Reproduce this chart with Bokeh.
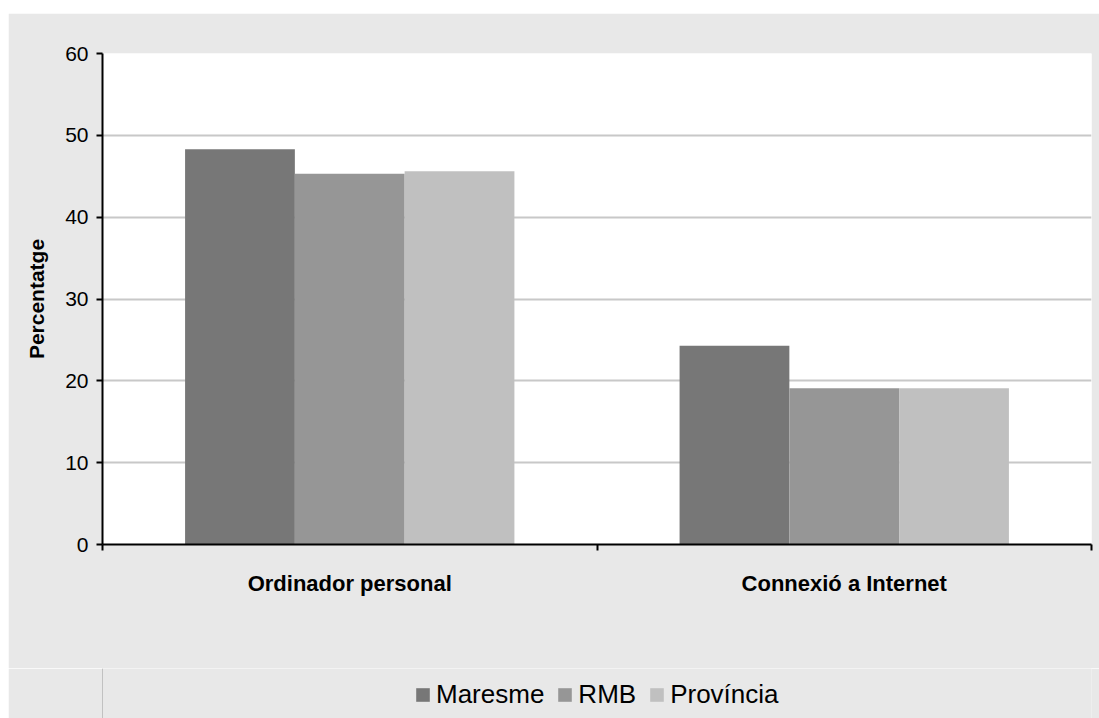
from bokeh.plotting import figure
from bokeh.models import (ColumnDataSource, Range1d, FixedTicker, Legend, LegendItem, Spacer)
from bokeh.layouts import column, row
from bokeh.transform import dodge
from bokeh.embed import file_html
from bokeh.resources import INLINE

categories = ["Ordinador personal", "Connexió a Internet"]
series = ["Maresme", "RMB", "Província"]
maresme = [48.3, 24.3]
rmb = [45.3, 19.1]
provincia = [45.6, 19.1]
colors = ["#777777", "#969696", "#c0c0c0"]
y_ticks = [0, 10, 20, 30, 40, 50, 60]

FONT = "Liberation Sans"
BG = "#e8e8e8"

src = ColumnDataSource(dict(
    x=[i + 0.5 for i in range(len(categories))],
    Maresme=maresme, RMB=rmb, Provincia=provincia,
))

p = figure(width=1091, height=655, output_backend="svg", toolbar_location=None,
           x_range=Range1d(0, len(categories)), y_range=Range1d(0, 60),
           min_border_left=94, min_border_right=8, min_border_top=40, min_border_bottom=124)
p.background_fill_color = "white"
p.border_fill_color = BG
p.outline_line_color = None

bw = 0.222
offsets = [-bw, 0, bw]
for col, off, c in zip(["Maresme", "RMB", "Provincia"], offsets, colors):
    p.vbar(x=dodge("x", off, range=p.x_range), top=col, width=bw, source=src,
           fill_color=c, line_color=None)

# y axis
yax = p.yaxis[0]
yax.ticker = FixedTicker(ticks=y_ticks)
yax.axis_line_color = "black"
yax.axis_line_width = 2
yax.major_tick_line_color = "black"
yax.major_tick_line_width = 2
yax.major_tick_out = 6
yax.major_tick_in = 0
yax.minor_tick_line_color = None
yax.major_label_text_font = FONT
yax.major_label_text_font_size = "21px"
yax.major_label_text_color = "black"
yax.major_label_standoff = 8
yax.axis_label = "Percentatge"
yax.axis_label_text_font = FONT
yax.axis_label_text_font_style = "bold"
yax.axis_label_text_font_size = "21px"
yax.axis_label_text_color = "black"
yax.axis_label_standoff = 14

# x axis
xax = p.xaxis[0]
xax.ticker = FixedTicker(ticks=[i + 0.5 for i in range(len(categories))],
                         minor_ticks=list(range(len(categories) + 1)))
xax.major_label_overrides = {i + 0.5: c for i, c in enumerate(categories)}
xax.axis_line_color = "black"
xax.axis_line_width = 2
xax.major_tick_line_color = None
xax.major_tick_out = 6
xax.minor_tick_line_color = "black"
xax.minor_tick_line_width = 2
xax.minor_tick_out = 6
xax.minor_tick_in = 0
xax.major_label_text_font = FONT
xax.major_label_text_font_style = "bold"
xax.major_label_text_font_size = "22px"
xax.major_label_text_color = "black"
xax.major_label_standoff = 20

p.xgrid.grid_line_color = None
p.ygrid.grid_line_color = "#c8c8c8"
p.ygrid.grid_line_width = 2

# legend strip (its swatch renderers sit outside the visible range)
p2 = figure(width=1091, height=50, output_backend="svg", toolbar_location=None,
            x_range=Range1d(0, 1), y_range=Range1d(0, 1),
            x_axis_type=None, y_axis_type=None,
            min_border_left=0, min_border_right=0, min_border_top=0, min_border_bottom=0)
p2.background_fill_color = BG
p2.border_fill_color = BG
p2.outline_line_color = None
p2.xgrid.grid_line_color = None
p2.ygrid.grid_line_color = None
items = []
for s, c in zip(series, colors):
    r = p2.vbar(x=[-5], top=[1], width=0.1, fill_color=c, line_color=None)
    items.append(LegendItem(label=s, renderers=[r]))
legend = Legend(items=items, location=(312, 8), orientation="horizontal",
                background_fill_alpha=0, border_line_color=None,
                glyph_width=17, glyph_height=17, label_standoff=5, spacing=12,
                padding=0, margin=0,
                label_text_font=FONT, label_text_font_size="26px", label_text_color="black")
p2.add_layout(legend, "center")

layout = column(Spacer(height=13), row(Spacer(width=8), column(p, p2)))
open("out.html", "w").write(file_html(layout, INLINE))
